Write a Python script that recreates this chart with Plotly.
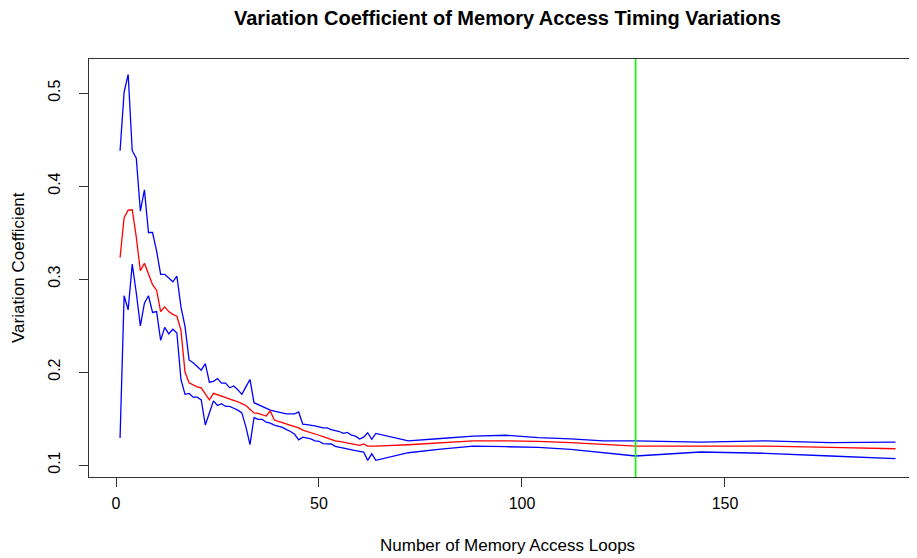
import plotly.graph_objects as go

# Number of memory access loops
loops = list(range(1, 65)) + [72, 80, 88, 96, 104, 112, 120, 128, 144, 160, 176, 192]

upper = [0.438, 0.501, 0.520, 0.438, 0.430, 0.373, 0.396, 0.350, 0.350, 0.330,
         0.305, 0.305, 0.301, 0.297, 0.303, 0.270, 0.249, 0.213, 0.210, 0.206,
         0.202, 0.209, 0.189, 0.190, 0.193, 0.188, 0.188, 0.183, 0.185, 0.181,
         0.176, 0.184, 0.192, 0.167, 0.165, 0.163, 0.161, 0.159, 0.158, 0.157,
         0.156, 0.155, 0.155, 0.155, 0.157, 0.144, 0.1435, 0.143, 0.142, 0.141,
         0.140, 0.140, 0.138, 0.137, 0.136, 0.134, 0.135, 0.132, 0.131, 0.128,
         0.130, 0.1347, 0.1276, 0.134,
         0.126, 0.1285, 0.131, 0.132, 0.1295, 0.128, 0.126, 0.126, 0.1247, 0.126, 0.124, 0.1247]

mean = [0.323, 0.366, 0.374, 0.3745, 0.345, 0.309, 0.317, 0.306, 0.294, 0.288,
        0.265, 0.270, 0.265, 0.262, 0.260, 0.245, 0.200, 0.1885, 0.186, 0.184,
        0.183, 0.177, 0.170, 0.177, 0.1756, 0.174, 0.173, 0.171, 0.170, 0.168,
        0.166, 0.164, 0.160, 0.156, 0.1556, 0.154, 0.1527, 0.158, 0.1484, 0.147,
        0.1455, 0.144, 0.1427, 0.141, 0.140, 0.1376, 0.136, 0.1347, 0.1333, 0.132,
        0.1305, 0.129, 0.1276, 0.126, 0.1255, 0.1247, 0.124, 0.1233, 0.1226, 0.1212,
        0.1226, 0.1204, 0.1204, 0.1204,
        0.1218, 0.124, 0.126, 0.126, 0.1255, 0.124, 0.1218, 0.1204, 0.1204, 0.1204, 0.119, 0.1175]

lower = [0.129, 0.282, 0.267, 0.316, 0.285, 0.2495, 0.274, 0.282, 0.264, 0.265,
         0.234, 0.248, 0.241, 0.246, 0.242, 0.192, 0.176, 0.177, 0.173, 0.173,
         0.170, 0.143, 0.156, 0.169, 0.164, 0.166, 0.163, 0.163, 0.161, 0.159,
         0.156, 0.141, 0.122, 0.151, 0.149, 0.149, 0.146, 0.145, 0.143, 0.142,
         0.1405, 0.138, 0.136, 0.133, 0.127, 0.130, 0.129, 0.128, 0.126, 0.1255,
         0.123, 0.1226, 0.1226, 0.120, 0.119, 0.1176, 0.117, 0.116, 0.1154, 0.1147,
         0.114, 0.105, 0.112, 0.105,
         0.1132, 0.117, 0.1204, 0.1197, 0.119, 0.1169, 0.113, 0.1097, 0.114, 0.1126, 0.1097, 0.1068]

threshold = 128

x_ticks = [0, 50, 100, 150]
y_ticks = [0.1, 0.2, 0.3, 0.4, 0.5]

FONT = "Liberation Sans, Arial, Helvetica, sans-serif"
AXIS_COLOR = "#333333"

fig = go.Figure()
fig.add_trace(go.Scatter(x=loops, y=upper, mode="lines",
                         line=dict(color="#0000FF", width=1.3), showlegend=False))
fig.add_trace(go.Scatter(x=loops, y=mean, mode="lines",
                         line=dict(color="#FF0000", width=1.3), showlegend=False))
fig.add_trace(go.Scatter(x=loops, y=lower, mode="lines",
                         line=dict(color="#0000FF", width=1.3), showlegend=False))
fig.add_vline(x=threshold, line=dict(color="#00FF00", width=1.6), layer="above")

fig.update_layout(
    width=909, height=550,
    margin=dict(l=81, r=0, t=51, b=81, pad=0),
    paper_bgcolor="white", plot_bgcolor="white",
    font=dict(family=FONT, size=16, color="black"),
    xaxis=dict(range=[-6.65, 197.3], tickvals=x_ticks, ticktext=[str(v) for v in x_ticks],
               showgrid=False, zeroline=False, showline=True, mirror=True,
               linecolor=AXIS_COLOR, linewidth=1.3, ticks="outside", ticklen=9,
               tickcolor=AXIS_COLOR, tickwidth=1, ticklabelstandoff=3),
    yaxis=dict(range=[0.0871, 0.5366], tickvals=y_ticks, ticktext=[str(v) for v in y_ticks],
               showgrid=False, zeroline=False, showline=True, mirror=False,
               linecolor=AXIS_COLOR, linewidth=1.3, ticks="outside", ticklen=9,
               tickcolor=AXIS_COLOR, tickwidth=1, tickangle=-90, ticklabelstandoff=12),
    annotations=[
        dict(text="<b>Variation Coefficient of Memory Access Timing Variations</b>",
             xref="paper", yref="paper", x=0.5054, y=1.098, xanchor="center", yanchor="middle",
             showarrow=False, font=dict(family=FONT, size=20, color="black")),
        dict(text="Number of Memory Access Loops",
             xref="paper", yref="paper", x=0.5054, y=-0.165, xanchor="center", yanchor="middle",
             showarrow=False, font=dict(family=FONT, size=17, color="black")),
        dict(text="Variation Coefficient", textangle=-90,
             xref="paper", yref="paper", x=-0.0857, y=0.5, xanchor="center", yanchor="middle",
             showarrow=False, font=dict(family=FONT, size=17, color="black")),
    ],
)

fig.write_html("out.html")
